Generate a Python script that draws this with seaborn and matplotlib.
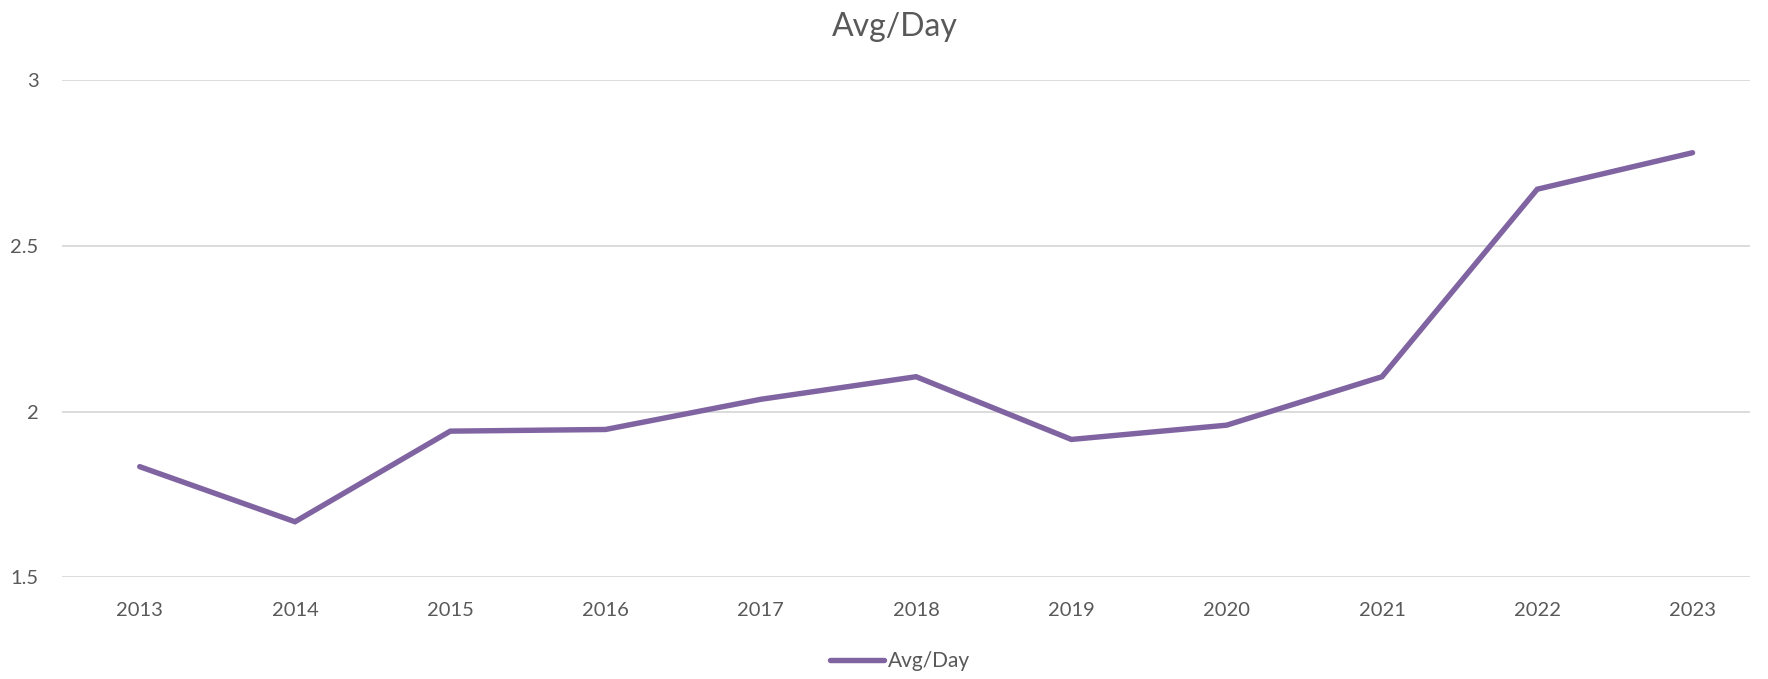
import matplotlib
matplotlib.use("Agg")
import matplotlib.pyplot as plt
import seaborn as sns
import pandas as pd

years = ["2013", "2014", "2015", "2016", "2017", "2018", "2019", "2020", "2021", "2022", "2023"]
avg_per_day = [1.834, 1.668, 1.941, 1.946, 2.037, 2.105, 1.916, 1.959, 2.105, 2.670, 2.780]
y_ticks = [1.5, 2, 2.5, 3]
y_tick_labels = ["1.5", "2", "2.5", "3"]

df = pd.DataFrame({"Year": years, "Avg/Day": avg_per_day})
df["pos"] = range(len(years))

sns.set_theme(style="white")
plt.rcParams["font.family"] = ["Lato", "DejaVu Sans"]

fig = plt.figure(figsize=(17.68, 6.79), dpi=100)
ax = fig.add_axes([0.0351, 0.1495, 0.9547, 0.7331])

sns.lineplot(data=df, x="pos", y="Avg/Day", ax=ax, color="#8064a2",
             linewidth=3.9, solid_capstyle="round", solid_joinstyle="miter",
             label="Avg/Day", legend=False)

ax.set_xlim(-0.5, 10.37)
ax.set_ylim(1.5, 3)
ax.set_xticks(range(len(years)))
ax.set_xticklabels(years)
ax.set_yticks(y_ticks)
ax.set_yticklabels(y_tick_labels)
ax.grid(axis="y", color="#d9d9d9", linewidth=1.3)
ax.set_axisbelow(True)
for s in ax.spines.values():
    s.set_visible(False)
ax.tick_params(axis="both", length=0, labelsize=14.5, colors="#595959")
ax.tick_params(axis="x", pad=18)
ax.tick_params(axis="y", pad=17)
ax.set_xlabel("")
ax.set_ylabel("")

fig.text(0.506, 1 - 27 / 679, "Avg/Day", ha="center", va="center", fontsize=23, color="#595959")

handles, labels = ax.get_legend_handles_labels()
leg = fig.legend(handles, labels, loc="center", bbox_to_anchor=(0.509, 1 - 661 / 679),
                 frameon=False, fontsize=15, handlelength=2.6, handletextpad=0.15,
                 labelcolor="#595959")

fig.savefig("out.png", dpi=100)
